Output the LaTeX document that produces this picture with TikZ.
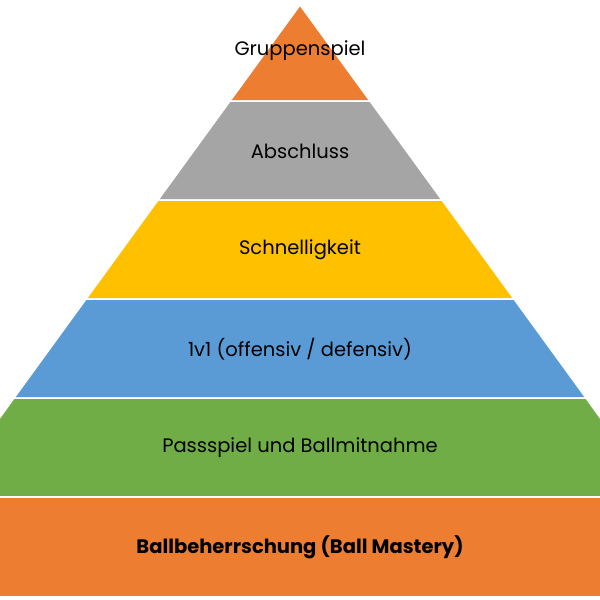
\documentclass[tikz,border=0pt]{standalone}
\usepackage{fontspec}
\setmainfont{Poppins}
\begin{document}
\begin{tikzpicture}[x=1pt,y=-1pt,
  layer/.style={draw=white,line width=1.5pt,line join=miter},
  lbl/.style={font=\fontsize{19.5}{22}\selectfont,text=black}]
\definecolor{cOr}{HTML}{ED7D31}
\definecolor{cGr}{HTML}{A5A5A5}
\definecolor{cYe}{HTML}{FFC000}
\definecolor{cBl}{HTML}{5B9BD5}
\definecolor{cGn}{HTML}{70AD47}
\useasboundingbox (0,0) rectangle (600,600);
\clip (0,0) rectangle (600,600);
\fill[cOr,layer] (300,5) -- (370,101) -- (230,101) -- cycle;
\fill[cGr,layer] (230,101) -- (370,101) -- (442,200) -- (158,200) -- cycle;
\fill[cYe,layer] (158,200) -- (442,200) -- (514,299) -- (86,299) -- cycle;
\fill[cBl,layer] (86,299) -- (514,299) -- (586,398) -- (14,398) -- cycle;
\fill[cGn,layer] (14,398) -- (586,398) -- (604,423) -- (604,497) -- (-4,497) -- (-4,423) -- cycle;
\fill[cOr,layer] (-4,497) rectangle (604,597);
\node[lbl] (n1) at (300,51) {Gruppenspiel};
\node[lbl] (n2) at (300,151) {Abschluss};
\node[lbl] (n3) at (300,250) {Schnelligkeit};
\node[lbl] (n4) at (300,349) {1v1 (offensiv / defensiv)};
\node[lbl] (n5) at (300,448) {Passspiel und Ballmitnahme};
\node[lbl,font=\fontsize{19.5}{22}\selectfont\bfseries] (n6) at (300,547) {Ballbeherrschung (Ball Mastery)};
\end{tikzpicture}
\end{document}
